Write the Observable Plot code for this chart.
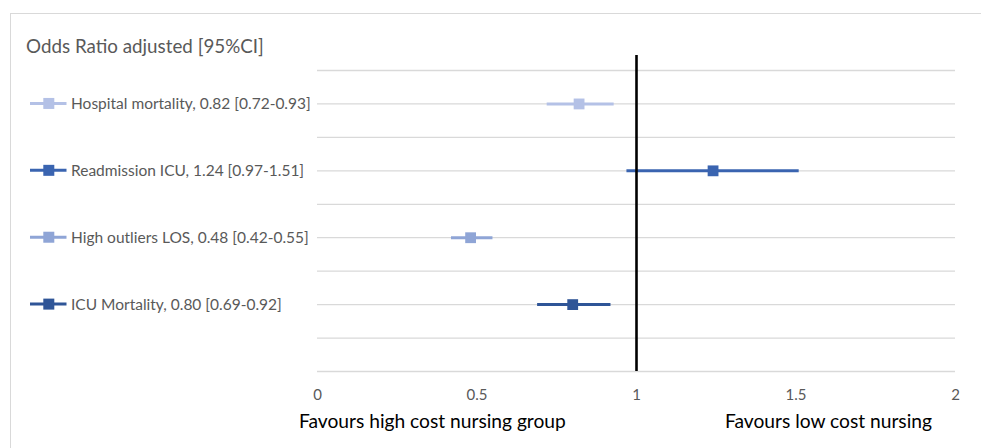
<!DOCTYPE html>
<html>
<head>
<meta charset="utf-8">
<script src="https://cdn.jsdelivr.net/npm/d3@7"></script>
<script src="https://cdn.jsdelivr.net/npm/@observablehq/plot@0.6"></script>
<style>
  html, body { margin: 0; padding: 0; background: #fff; }
  #wrap { position: relative; width: 981px; height: 448px; overflow: hidden; background: #fff; font-family: Lato, "Open Sans", sans-serif; }
  #frame { position: absolute; left: 10px; top: 13px; width: 990px; height: 460px; border-top: 1.5px solid #d9d9d9; border-left: 1.5px solid #d9d9d9; box-sizing: border-box; }
  #title { position: absolute; left: 26px; top: 34px; font-size: 18.8px; color: #595959; white-space: nowrap; }
  .cap { position: absolute; top: 409px; font-size: 19.2px; color: #000; white-space: nowrap; }
  #chart { position: absolute; left: 0; top: 0; }
</style>
</head>
<body>
<div id="wrap">
  <div id="frame"></div>
  <div id="chart"></div>
  <div id="title">Odds Ratio adjusted [95%CI]</div>
  <div class="cap" style="left:299px">Favours high cost nursing group</div>
  <div class="cap" style="left:725px">Favours low cost nursing</div>
</div>
<script>
// Data
const outcomes = ["Hospital mortality", "Readmission ICU", "High outliers LOS", "ICU Mortality"];
const oddsRatio = [0.82, 1.24, 0.48, 0.80];
const ciLow = [0.72, 0.97, 0.42, 0.69];
const ciHigh = [0.93, 1.51, 0.55, 0.92];
const rowPos = [8, 6, 4, 2];
const colors = ["#b4c1e6", "#3a64b0", "#8fa5d6", "#2f5597"];
const xTicks = [0, 0.5, 1, 1.5, 2];
const gridRows = [0, 1, 2, 3, 4, 5, 6, 7, 8, 9];
const refLine = [{x: 1, y1: 0, y2: 9.45}];

const data = outcomes.map((name, i) => ({
  name, or: oddsRatio[i], lo: ciLow[i], hi: ciHigh[i], row: rowPos[i], color: colors[i],
  label: `${name}, ${oddsRatio[i].toFixed(2)} [${ciLow[i].toFixed(2)}-${ciHigh[i].toFixed(2)}]`
}));

const plot = Plot.plot({
  width: 981,
  height: 448,
  marginLeft: 317,
  marginRight: 26,
  marginTop: 70,
  marginBottom: 77,
  style: {background: "transparent", fontFamily: "Lato, 'Open Sans', sans-serif"},
  x: {domain: [0, 2], ticks: xTicks, tickFormat: d => String(d), label: null},
  y: {domain: [0, 9], axis: null},
  marks: [
    Plot.gridY(gridRows, {stroke: "#d9d9d9", strokeOpacity: 1, strokeWidth: 1.3}),
    Plot.ruleY(data, {y: "row", x1: "lo", x2: "hi", stroke: "color", strokeWidth: 3}),
    Plot.dot(data, {x: "or", y: "row", symbol: "square", r: 6.1, fill: "color", stroke: null}),
    Plot.ruleX(refLine, {x: "x", y1: "y1", y2: "y2", stroke: "#000", strokeWidth: 2.6}),
    Plot.axisX({ticks: xTicks, tickFormat: d => String(d), tickSize: 0, tickPadding: 18, fontSize: 15, color: "#595959", label: null})
  ]
});

document.getElementById("chart").appendChild(plot);

// Legend, positioned by the plot's y scale
const yScale = plot.scale("y");
const svg = d3.select(plot);
const lg = svg.append("g").attr("text-anchor", "start");
data.forEach(d => {
  const y = yScale.apply(d.row);
  lg.append("line").attr("x1", 30).attr("x2", 66.5).attr("y1", y).attr("y2", y)
    .attr("stroke", d.color).attr("stroke-width", 3);
  lg.append("rect").attr("x", 43.3).attr("y", y - 5.5).attr("width", 11).attr("height", 11)
    .attr("fill", d.color);
  lg.append("text").attr("x", 71).attr("y", y).attr("dy", "0.35em")
    .attr("text-anchor", "start")
    .attr("font-size", 15.5).attr("fill", "#595959").text(d.label);
});
</script>
</body>
</html>
